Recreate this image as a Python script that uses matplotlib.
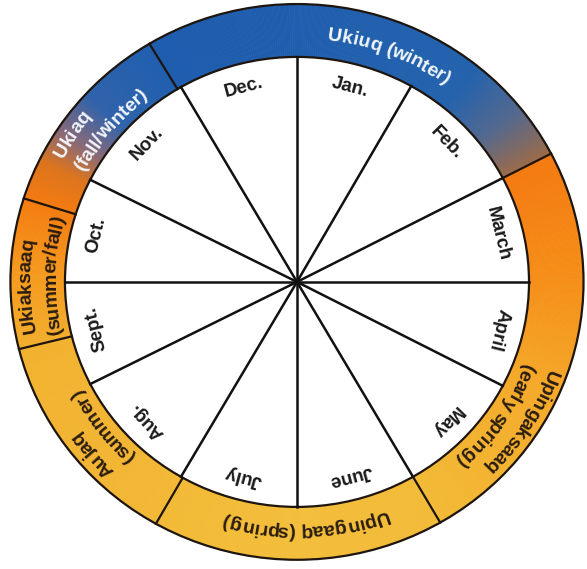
import numpy as np
import matplotlib.pyplot as plt
from matplotlib.patches import Wedge, Circle
from matplotlib.colors import LinearSegmentedColormap
from matplotlib.font_manager import FontProperties, findfont, get_font

plt.rcParams['font.family'] = ['Liberation Sans', 'DejaVu Sans']
plt.rcParams['text.hinting'] = 'no_hinting'

# months, clockwise from the top; edges in degrees (clockwise = decreasing)
months = ['Jan.', 'Feb.', 'March', 'April', 'May', 'June',
          'July', 'Aug.', 'Sept.', 'Oct.', 'Nov.', 'Dec.']
month_edges = [90, 60.5, 27.5, 0, -27.5, -60, -90, -120, -153, -180, -207, -240, -270]

# Inuit seasons, clockwise from Ukiuq
seasons = ['Ukiuq (winter)', 'Upingaksaaq\n(early spring)', 'Upingaaq (spring)',
           'Aujaq\n(summer)', 'Ukiaksaaq\n(summer/fall)', 'Ukiaq\n(fall/winter)']
season_edges = [121, 27.5, -60, -119.5, -166, -197.5, -239]

# layout / style
R_IN, R_OUT = 1.0, 1.235
PX = 228.5  # approx pixels per data unit
label_angles = [[68.5], [-32.5, -34.5], [-88], [-139, -142.5], [181, 178.5], [146, 140]]
season_text_color = ['#f2f5fb', '#2a1c10', '#2a1c10', '#2a1c10', '#2a1c10', '#f2f5fb']
season_colors = [
    [(0, '#1d5cae'), (0.75, '#2362ad'), (0.88, '#52688f'), (1, '#9c6a48')],
    [(0, '#f47a10'), (0.3, '#f58e18'), (0.6, '#f4aa2a'), (1, '#f2ba36')],
    [(0, '#f2bb38'), (0.5, '#f3be3b'), (1, '#f2ba36')],
    [(0, '#f2b836'), (1, '#f2b230')],
    [(0, '#f2ae2c'), (0.5, '#f59a1e'), (1, '#f47c10')],
    [(0, '#f37a10'), (0.2, '#dc741d'), (0.38, '#85697a'), (0.6, '#2f62aa'), (1, '#1f5eae')],
]
line_col = '#1e150e'

fig = plt.figure(figsize=(5.87, 5.69), dpi=100)
ax = fig.add_axes([0, 0, 1, 1])
ax.set_xlim(-1.28, 1.25)
ax.set_ylim(-1.276, 1.253)
ax.axis('off')


def arc_text(s, ang, r, size, color, weight='bold'):
    # lay characters one by one along a clockwise arc, tops outward
    prop = FontProperties(family='Liberation Sans', size=size, weight=weight)
    font = get_font(findfont(prop))
    font.set_size(size, 100)
    adv = [font.load_char(ord(c)).linearHoriAdvance / 65536 for c in s]
    total = sum(adv)
    cap = 0.72 * size * 100 / 72
    r_base = r - cap / 2 / PX
    a0 = np.radians(ang) + total / 2 / (r * PX)
    pos = 0
    for c, w in zip(s, adv):
        phi = a0 - pos / (r * PX)
        rot = np.degrees(a0 - (pos + w / 2) / (r * PX)) - 90
        pos += w
        if c == ' ':
            continue
        ax.text(r_base * np.cos(phi), r_base * np.sin(phi), c, fontproperties=prop,
                color=color, rotation=rot, ha='left', va='baseline',
                rotation_mode='anchor', zorder=6)


# season ring with gradients along the arc
for i, name in enumerate(seasons):
    a1, a2 = season_edges[i], season_edges[i + 1]
    cmap = LinearSegmentedColormap.from_list('s%d' % i, season_colors[i])
    for a in np.arange(a1, a2, -0.5):
        lo = max(a - 0.5, a2)
        col = cmap((a1 - a) / (a1 - a2))
        ax.add_patch(Wedge((0, 0), R_OUT, lo, a + 0.05, width=R_OUT - R_IN,
                           facecolor=col, edgecolor=col, lw=0.4, zorder=1))
    lines = name.split('\n')
    radii = [1.115] if len(lines) == 1 else [1.18, 1.072]
    for txt, la, rr in zip(lines, label_angles[i], radii):
        arc_text(txt, la, rr, 14, season_text_color[i])

# season boundaries
for a in season_edges[:-1]:
    t = np.radians(a)
    ax.plot([R_IN * np.cos(t), R_OUT * np.cos(t)], [R_IN * np.sin(t), R_OUT * np.sin(t)],
            color=line_col, lw=1.6, zorder=4)

# inner white disc and outlines
ax.add_patch(Circle((0, 0), R_IN, facecolor='white', edgecolor=line_col, lw=1.6, zorder=2))
ax.add_patch(Circle((0, 0), R_OUT, facecolor='none', edgecolor=line_col, lw=1.6, zorder=4))

# month spokes and labels
for a in month_edges[:-1]:
    t = np.radians(a)
    ax.plot([0, R_IN * np.cos(t)], [0, R_IN * np.sin(t)], color='#111111', lw=1.8, zorder=3)

for i, m in enumerate(months):
    mid = (month_edges[i] + month_edges[i + 1]) / 2
    t = np.radians(mid)
    ax.text(0.895 * np.cos(t), 0.895 * np.sin(t), m, fontsize=13.5, fontweight='bold',
            color='#1a1a1a', rotation=mid - 90, ha='center', va='center',
            rotation_mode='anchor', zorder=5)

fig.savefig('out.png', dpi=100, facecolor='white')
